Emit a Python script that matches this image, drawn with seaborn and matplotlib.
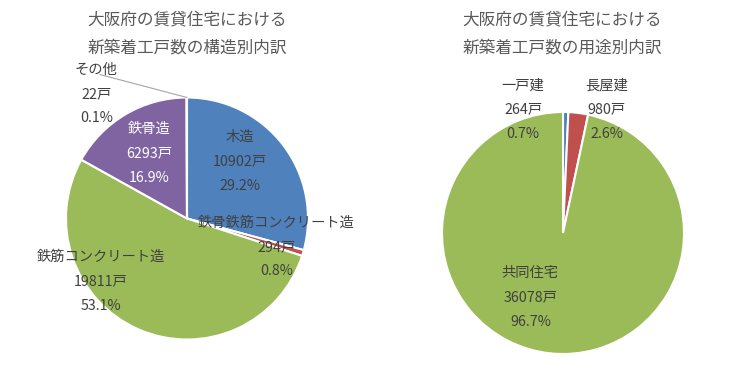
import numpy as np
import matplotlib
matplotlib.use('Agg')
import matplotlib.pyplot as plt
import seaborn as sns

# left pie: construction type
struct_names = ['木造', '鉄骨鉄筋コンクリート造', '鉄筋コンクリート造', '鉄骨造', 'その他']
struct_counts = [10902, 294, 19811, 6293, 22]
struct_colors = ['#4F81BD', '#C0504D', '#9BBB59', '#8064A2', '#4BACC6']

# right pie: usage type
usage_names = ['一戸建', '長屋建', '共同住宅']
usage_counts = [264, 980, 36078]
usage_colors = ['#4F81BD', '#C0504D', '#9BBB59']

left_title = '大阪府の賃貸住宅における\n新築着工戸数の構造別内訳'
right_title = '大阪府の賃貸住宅における\n新築着工戸数の用途別内訳'

# label positions (data coords, radius = 1), placed like the excel original
struct_label_xy = [(0.44, 0.47), (0.74, -0.235), (-0.71, -0.52), (-0.31, 0.54), (-0.75, 1.03)]
struct_label_col = ['#404040', '#404040', '#404040', 'white', '#404040']
usage_label_xy = [(-0.33, 1.02), (0.36, 1.02), (-0.27, -0.53)]

sns.set_theme(style='white')
plt.rcParams['font.family'] = ['Noto Sans CJK JP', 'DejaVu Sans']

W, H = 749, 376
fig = plt.figure(figsize=(W / 100, H / 100), dpi=100)
fig.patch.set_facecolor('white')

R_PX = 121
HALF = 1.5
SIDE = 2 * HALF * R_PX


def make_ax(cx, cy):
    # cx, cy: pie centre in pixel coords (from top-left)
    left = (cx - SIDE / 2) / W
    bottom = (H - cy - SIDE / 2) / H
    ax = fig.add_axes([left, bottom, SIDE / W, SIDE / H])
    ax.set_axis_off()
    return ax


def draw_pie(ax, names, counts, colors, label_xy, label_col):
    ax.pie(counts, colors=colors, startangle=90, counterclock=False, radius=1,
           wedgeprops=dict(edgecolor='white', linewidth=1.5))
    ax.set_xlim(-HALF, HALF)
    ax.set_ylim(-HALF, HALF)
    total = sum(counts)
    for name, c, (x, y), col in zip(names, counts, label_xy, label_col):
        txt = f'{name}\n{c}戸\n{c / total * 100:.1f}%'
        ax.text(x, y, txt, ha='center', va='center', fontsize=10.3, color=col,
                linespacing=1.95, clip_on=False)


ax1 = make_ax(187, 218.5)
draw_pie(ax1, struct_names, struct_counts, struct_colors, struct_label_xy, struct_label_col)
# leader line for the tiny slice
ax1.plot([-0.72, 0.0], [1.19, 1.0], color='#A6A6A6', lw=0.8, clip_on=False)

ax2 = make_ax(563, 233)
draw_pie(ax2, usage_names, usage_counts, usage_colors, usage_label_xy, ['#404040'] * 3)

fig.text(187 / W, 1 - 34 / H, left_title, ha='center', va='center', fontsize=12,
         color='#595959', linespacing=1.85)
fig.text(562 / W, 1 - 34 / H, right_title, ha='center', va='center', fontsize=12,
         color='#595959', linespacing=1.85)

fig.savefig('out.png', dpi=100, facecolor='white')
